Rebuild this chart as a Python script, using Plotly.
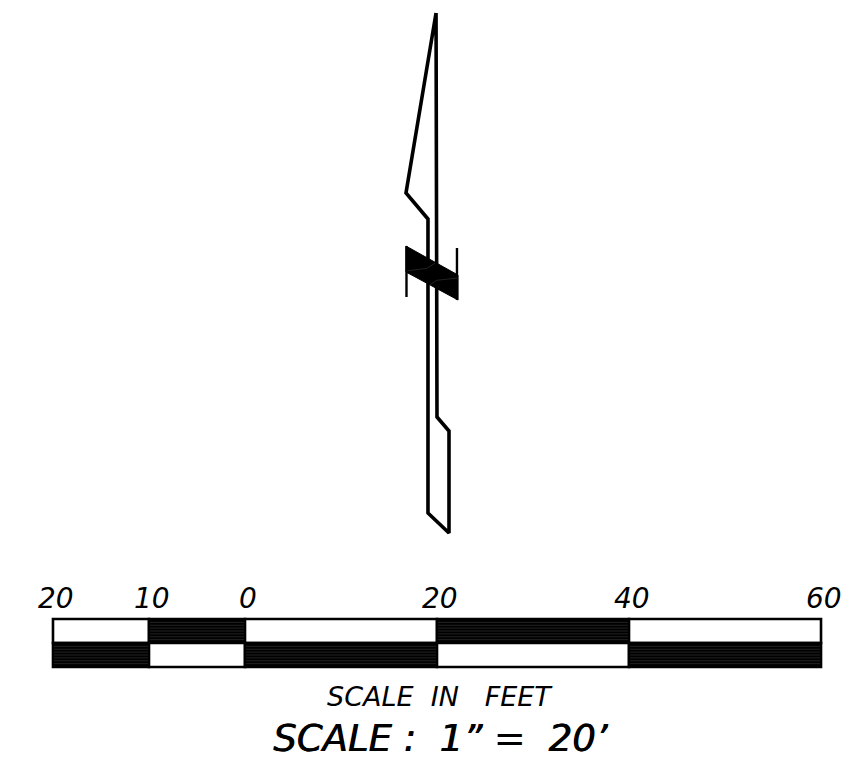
import plotly.graph_objects as go

# Everything is in feet on the drawing's own scale
bar_left = [-20, -10, 0, 20, 40]
bar_len = [10, 10, 20, 20, 20]
top_fill = ["#ffffff", "#000000", "#ffffff", "#000000", "#ffffff"]
bottom_fill = ["#000000", "#ffffff", "#000000", "#ffffff", "#000000"]
row_centres = [1.25, -1.25]
row_height = 2.5
scale_ticks = [-20, -10, 0, 20, 40, 60]
tick_labels = ["20", "10", "0", "20", "40", "60"]

arrow_x = [19.90, 16.77, 19.06, 19.06, 21.25, 21.25, 20.00, 19.90]
arrow_y = [65.63, 46.88, 44.17, 13.54, 11.46, 22.08, 23.54, 65.63]
hatch_x = [16.77, 22.19, 22.19, 16.77, 16.77]
hatch_y = [41.35, 38.33, 35.73, 38.65, 41.35]
left_tick_x = [16.82, 16.82]
left_tick_y = [41.35, 36.04]
right_tick_x = [22.08, 22.08]
right_tick_y = [41.15, 35.73]
seam_x = [16.84, 18.92, 19.79, None, 19.27, 19.97, 22.11]
seam_y = [38.75, 39.03, 39.55, None, 37.32, 37.78, 38.02]
stripe_offsets = [0.35, 0.65, 0.95, 1.25, 1.55, 1.85, 2.15]

fig = go.Figure()

for row, fills in zip(row_centres, [top_fill, bottom_fill]):
    fig.add_trace(go.Bar(
        y=[row] * len(bar_left), x=bar_len, base=bar_left, width=row_height,
        orientation="h",
        marker=dict(color=fills, line=dict(color="#000000", width=2.6)),
    ))

# Fine grey hatch lines inside the black blocks
sx, sy = [], []
for row, fills in zip(row_centres, [top_fill, bottom_fill]):
    for left, length, fill in zip(bar_left, bar_len, fills):
        if fill == "#000000":
            for off in stripe_offsets:
                y = row - row_height / 2 + off
                sx += [left + 0.1, left + length - 0.1, None]
                sy += [y, y, None]
fig.add_trace(go.Scatter(x=sx, y=sy, mode="lines",
                         line=dict(color="#555555", width=0.4)))

fig.add_trace(go.Scatter(x=arrow_x, y=arrow_y, mode="lines",
                         line=dict(color="#000000", width=3.6, shape="linear")))
fig.add_trace(go.Scatter(x=hatch_x, y=hatch_y, mode="lines", fill="toself",
                         fillcolor="#000000", line=dict(color="#000000", width=1)))
fig.add_trace(go.Scatter(x=left_tick_x, y=left_tick_y, mode="lines",
                         line=dict(color="#000000", width=2.4)))
fig.add_trace(go.Scatter(x=right_tick_x, y=right_tick_y, mode="lines",
                         line=dict(color="#000000", width=2.4)))
fig.add_trace(go.Scatter(x=seam_x, y=seam_y, mode="lines",
                         line=dict(color="#555555", width=0.4)))

font = "DejaVu Sans"
for t, lab in zip(scale_ticks, tick_labels):
    fig.add_annotation(x=t + 0.3, y=4.6, text=lab, showarrow=False, yanchor="middle",
                       font=dict(family=font, size=28, color="#000000", style="italic"))
fig.add_annotation(x=20.3, y=-5.6, text="SCALE\u00a0\u00a0IN\u00a0\u00a0\u00a0FEET", showarrow=False,
                   font=dict(family=font, size=27, color="#000000", style="italic"))
fig.add_annotation(x=20.35, y=-9.9, text="SCALE\u00a0:\u00a0\u00a01”\u00a0=\u00a0\u00a020’", showarrow=False,
                   font=dict(family=font, size=37, color="#000000", style="italic",
                             shadow="0.8px 0 0 #000000"))

fig.update_layout(
    width=867, height=761, autosize=False,
    margin=dict(l=0, r=0, t=0, b=0),
    paper_bgcolor="#ffffff", plot_bgcolor="#ffffff",
    showlegend=False, hovermode=False, barmode="overlay",
    xaxis=dict(visible=False, range=[-25.52, 64.79], fixedrange=True),
    yaxis=dict(visible=False, range=[-12.29, 66.98], fixedrange=True),
)
fig.write_html("out.html", config=dict(displayModeBar=False),
               post_script="document.body.style.margin='0';document.body.style.overflow='hidden';")
